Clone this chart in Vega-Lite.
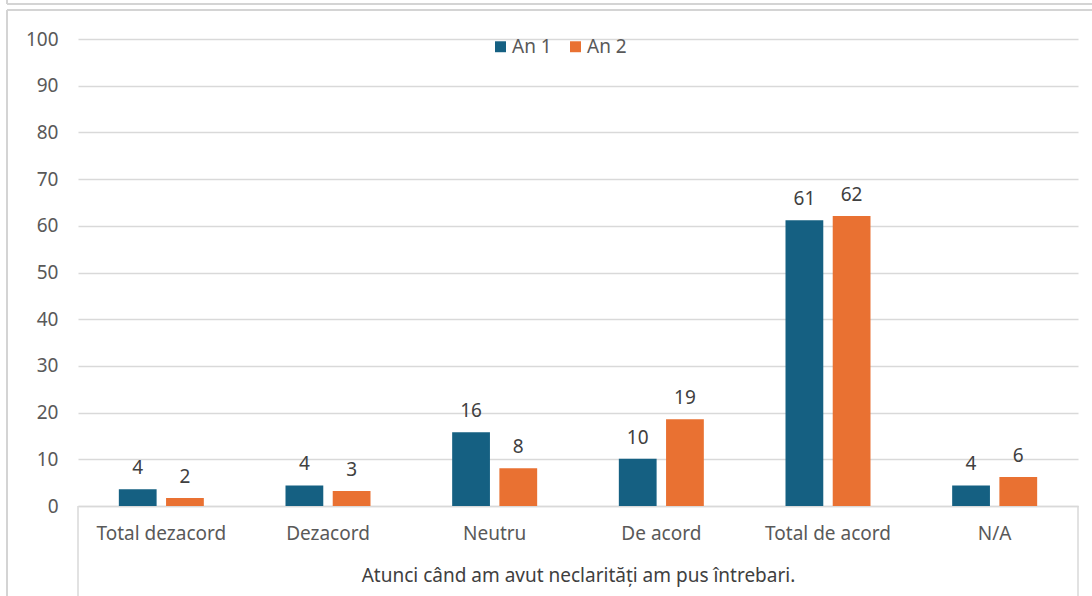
{
  "$schema": "https://vega.github.io/schema/vega-lite/v6.json",
  "width": 1000,
  "height": 467,
  "autosize": {"type": "none"},
  "padding": {"left": 78, "top": 39, "right": 14, "bottom": 90},
  "config": {
    "font": "Noto Sans",
    "view": {"stroke": null},
    "axis": {"labelFont": "Noto Sans", "titleFont": "Noto Sans"}
  },
  "datasets": {
    "bars": [
      {"categorie": "Total dezacord", "serie": "An 1", "valoare": 3.6},
      {"categorie": "Total dezacord", "serie": "An 2", "valoare": 1.7},
      {"categorie": "Dezacord", "serie": "An 1", "valoare": 4.4},
      {"categorie": "Dezacord", "serie": "An 2", "valoare": 3.2},
      {"categorie": "Neutru", "serie": "An 1", "valoare": 15.8},
      {"categorie": "Neutru", "serie": "An 2", "valoare": 8.1},
      {"categorie": "De acord", "serie": "An 1", "valoare": 10.1},
      {"categorie": "De acord", "serie": "An 2", "valoare": 18.6},
      {"categorie": "Total de acord", "serie": "An 1", "valoare": 61.2},
      {"categorie": "Total de acord", "serie": "An 2", "valoare": 62.1},
      {"categorie": "N/A", "serie": "An 1", "valoare": 4.4},
      {"categorie": "N/A", "serie": "An 2", "valoare": 6.2}
    ],
    "unul": [{}]
  },
  "layer": [
    {
      "data": {"name": "bars"},
      "encoding": {
        "x": {
          "field": "categorie",
          "type": "nominal",
          "sort": ["Total dezacord", "Dezacord", "Neutru", "De acord", "Total de acord", "N/A"],
          "scale": {"paddingInner": 0.49, "paddingOuter": 0.245},
          "axis": {
            "title": "Atunci când am avut neclarități am pus întrebari.",
            "labelAngle": 0,
            "labelFontSize": 19,
            "labelColor": "#595959",
            "labelPadding": 18,
            "ticks": false,
            "domainColor": "#d9d9d9",
            "domainWidth": 1.5,
            "titleFontSize": 19,
            "titleFontWeight": "normal",
            "titleColor": "#404040",
            "titlePadding": 23
          }
        },
        "xOffset": {
          "field": "serie",
          "type": "nominal",
          "scale": {"paddingInner": 0.2, "paddingOuter": 0}
        },
        "y": {
          "field": "valoare",
          "type": "quantitative",
          "scale": {"domain": [0, 100], "nice": false},
          "axis": {
            "title": null,
            "values": [0, 10, 20, 30, 40, 50, 60, 70, 80, 90, 100],
            "grid": true,
            "gridColor": "#d9d9d9",
            "gridWidth": 1.5,
            "domain": false,
            "ticks": false,
            "labelPadding": 20,
            "labelFontSize": 19,
            "labelColor": "#595959"
          }
        }
      },
      "layer": [
        {
          "mark": {"type": "bar"},
          "encoding": {
            "color": {
              "field": "serie",
              "type": "nominal",
              "scale": {"domain": ["An 1", "An 2"], "range": ["#156082", "#E97132"]},
              "legend": {
                "title": null,
                "orient": "none",
                "legendX": 413,
                "legendY": -2,
                "direction": "horizontal",
                "symbolType": "square",
                "symbolSize": 120,
                "symbolStrokeWidth": 0,
                "labelFontSize": 19,
                "labelColor": "#595959",
                "labelOffset": 2,
                "columnPadding": 14
              }
            }
          }
        },
        {
          "mark": {"type": "text", "baseline": "bottom", "dy": -11, "fontSize": 19, "color": "#404040"},
          "encoding": {
            "text": {"field": "valoare", "type": "quantitative", "format": ".0f"}
          }
        }
      ]
    },
    {
      "data": {"name": "unul"},
      "mark": {"type": "rule", "color": "#d9d9d9", "strokeWidth": 1.5},
      "encoding": {
        "x": {"datum": 0, "type": "quantitative", "scale": {"domain": [0, 1]}, "axis": null},
        "y": {"datum": 0, "type": "quantitative"},
        "y2": {"datum": -20}
      }
    },
    {
      "data": {"name": "unul"},
      "mark": {"type": "rule", "color": "#d9d9d9", "strokeWidth": 1.5},
      "encoding": {
        "x": {"datum": 1, "type": "quantitative", "scale": {"domain": [0, 1]}, "axis": null},
        "y": {"datum": 0, "type": "quantitative"},
        "y2": {"datum": -20}
      }
    },
    {
      "data": {"name": "unul"},
      "mark": {"type": "rule", "color": "#d4d4d4", "strokeWidth": 2},
      "encoding": {
        "x": {"datum": -0.071, "type": "quantitative", "scale": {"domain": [0, 1]}, "axis": null},
        "x2": {"datum": 1.1},
        "y": {"datum": 106.2, "type": "quantitative"}
      }
    },
    {
      "data": {"name": "unul"},
      "mark": {"type": "rule", "color": "#d4d4d4", "strokeWidth": 2},
      "encoding": {
        "x": {"datum": -0.071, "type": "quantitative", "scale": {"domain": [0, 1]}, "axis": null},
        "y": {"datum": 106.2, "type": "quantitative"},
        "y2": {"datum": -20}
      }
    },
    {
      "data": {"name": "unul"},
      "mark": {"type": "rule", "color": "#d4d4d4", "strokeWidth": 2},
      "encoding": {
        "x": {"datum": -0.071, "type": "quantitative", "scale": {"domain": [0, 1]}, "axis": null},
        "x2": {"datum": 1.1},
        "y": {"datum": 107.5, "type": "quantitative"}
      }
    },
    {
      "data": {"name": "unul"},
      "mark": {"type": "rule", "color": "#d4d4d4", "strokeWidth": 2},
      "encoding": {
        "x": {"datum": -0.071, "type": "quantitative", "scale": {"domain": [0, 1]}, "axis": null},
        "y": {"datum": 107.5, "type": "quantitative"},
        "y2": {"datum": 110}
      }
    }
  ],
  "resolve": {"scale": {"x": "independent"}}
}
